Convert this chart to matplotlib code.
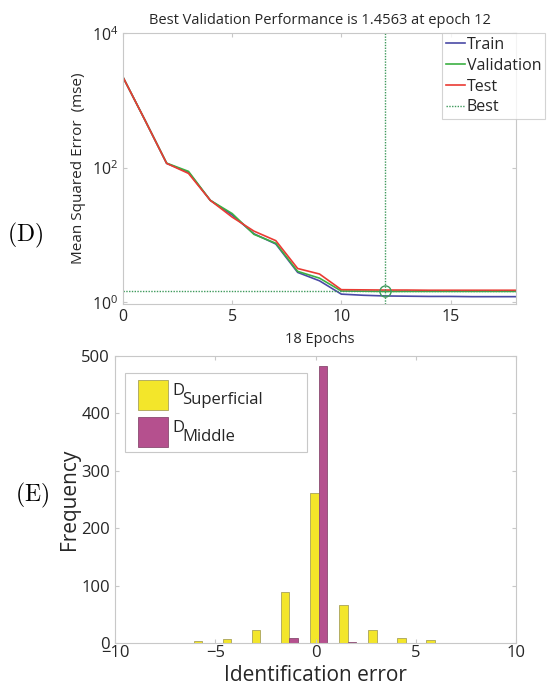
import matplotlib.pyplot as plt
from matplotlib.patches import Rectangle
import numpy as np

# ==========================================
# 1. Data
# ==========================================
epochs = np.arange(0, 19)
train_mse = [2240, 520, 117, 86, 33, 20, 10.5, 7.4, 2.8, 2.1, 1.33, 1.28, 1.25, 1.24, 1.23, 1.23, 1.22, 1.22, 1.22]
val_mse = [2240, 520, 118, 89, 33, 21, 10.3, 7.6, 2.9, 2.3, 1.48, 1.47, 1.4563, 1.46, 1.46, 1.46, 1.46, 1.46, 1.46]
test_mse = [2240, 520, 117, 83, 33, 18.6, 11.5, 8.3, 3.2, 2.65, 1.55, 1.54, 1.53, 1.53, 1.52, 1.52, 1.52, 1.52, 1.52]
best_epoch = 12
best_perf = 1.4563

bin_centers = [-5.65, -4.2, -2.75, -1.3, 0.15, 1.6, 3.05, 4.5, 5.95, 7.4]
superficial_counts = [4, 8, 23, 90, 262, 66, 23, 9, 5, 1]
middle_counts = [0, 0, 0, 10, 482, 3, 0, 0, 0, 0]
hist_labels = [('D', 'Superficial'), ('D', 'Middle')]
hist_colors = ['#f3e62a', '#b5508e']
hist_edges = ['#a8a25a', '#8a4a70']

# ==========================================
# 2. Style
# ==========================================
plt.rcParams['font.family'] = ['Open Sans', 'DejaVu Sans']
plt.rcParams['mathtext.fontset'] = 'custom'
plt.rcParams['mathtext.rm'] = 'Open Sans'
plt.rcParams['mathtext.it'] = 'Open Sans'

spine_col = '#c8c8c8'
text_col = '#262626'


def matlab_axes(ax, size):
    for s in ax.spines.values():
        s.set_color(spine_col)
        s.set_linewidth(0.8)
    ax.tick_params(direction='in', top=True, right=True, color=spine_col,
                   labelcolor=text_col, labelsize=size, length=3)
    ax.tick_params(which='minor', length=0)


fig = plt.figure(figsize=(5.51, 6.86), dpi=100)
W, H = 551, 686


def px(x, y):
    # pixel position (from top-left) -> figure fraction
    return x / W, 1 - y / H


# ==========================================
# 3. (D) Performance curve
# ==========================================
ax1 = fig.add_axes([0.2232, 0.5569, 0.7133, 0.3943])
ax1.plot(epochs, train_mse, color='#4a4aa6', lw=1.2, label='Train')
ax1.plot(epochs, val_mse, color='#3cb043', lw=1.2, label='Validation')
ax1.plot(epochs, test_mse, color='#ea3b33', lw=1.2, label='Test')
ax1.axvline(best_epoch, color='#3f9a5c', ls=(0, (1, 1)), lw=1.0, label='Best')
ax1.axhline(best_perf, color='#3f9a5c', ls=(0, (1, 1)), lw=1.0)
ax1.plot(best_epoch, best_perf, 'o', ms=8, mfc='none', mec='#3f9a5c', mew=1.0)
ax1.set_yscale('log')
ax1.set_xlim(0, 18)
ax1.set_ylim(0.95, 1e4)
ax1.set_xticks([0, 5, 10, 15])
ax1.set_yticks([1, 100, 10000])
ax1.set_yticklabels([r'$10^{0}$', r'$10^{2}$', r'$10^{4}$'])
matlab_axes(ax1, 11.5)
ax1.set_title('Best Validation Performance is 1.4563 at epoch 12', fontsize=10.5, color=text_col, pad=7)
ax1.set_xlabel('18 Epochs', fontsize=10.5, color=text_col, labelpad=5)
ax1.set_ylabel('Mean Squared Error  (mse)', fontsize=11, color=text_col, labelpad=4)
leg1 = ax1.legend(loc='upper right', bbox_to_anchor=px(545, 33),
                  bbox_transform=fig.transFigure, fontsize=11.5, frameon=True,
                  fancybox=False, handlelength=1.2, handletextpad=0.1,
                  borderpad=0.25, labelspacing=0.3, borderaxespad=0)
leg1.get_frame().set_edgecolor(spine_col)
leg1.get_frame().set_linewidth(0.8)
for t in leg1.get_texts():
    t.set_color(text_col)

# ==========================================
# 4. (E) Identification error histogram
# ==========================================
ax2 = fig.add_axes([0.2087, 0.0622, 0.7278, 0.4193])
centers = np.array(bin_centers)
w = 0.42
ax2.bar(centers - w / 2, superficial_counts, width=w, color=hist_colors[0], edgecolor=hist_edges[0], lw=0.6)
ax2.bar(centers + w / 2, middle_counts, width=w, color=hist_colors[1], edgecolor=hist_edges[1], lw=0.6)
ax2.set_xlim(-10, 10)
ax2.set_ylim(0, 500)
ax2.set_xticks([-10, -5, 0, 5, 10])
ax2.set_xticklabels(['\u221210', '\u22125', '0', '5', '10'])
ax2.set_yticks([0, 100, 200, 300, 400, 500])
matlab_axes(ax2, 12)
ax2.tick_params(axis='x', pad=1)
ax2.set_xlabel('Identification error', fontsize=15, color=text_col, labelpad=3)
ax2.set_ylabel('Frequency', fontsize=15, color=text_col, labelpad=1)

# legend drawn by hand so the subscript can stay full size
x0, y0 = px(125, 452)
x1, y1 = px(307, 373)
fig.patches.append(Rectangle((x0, y0), x1 - x0, y1 - y0, transform=fig.transFigure,
                             facecolor='white', edgecolor=spine_col, lw=0.8, zorder=5))
for i, (main, sub) in enumerate(hist_labels):
    top = 380 + i * 37
    sx, sy = px(138, top + 30)
    fig.patches.append(Rectangle((sx, sy), 30 / W, 30 / H, transform=fig.transFigure,
                                 facecolor=hist_colors[i], edgecolor=hist_edges[i], lw=0.6, zorder=6))
    fig.text(*px(172, top + 11), main, fontsize=12, color=text_col, ha='left', va='center', zorder=7)
    fig.text(*px(182, top + 20), sub, fontsize=12, color=text_col, ha='left', va='center', zorder=7)

# ==========================================
# 5. Panel letters
# ==========================================
fig.text(*px(25, 235), r'$\mathrm{(D)}$', math_fontfamily='cm', fontsize=17,
         color='black', ha='center', va='center')
fig.text(*px(32, 495), r'$\mathrm{(E)}$', math_fontfamily='cm', fontsize=17,
         color='black', ha='center', va='center')

plt.savefig('out.png', dpi=100)
